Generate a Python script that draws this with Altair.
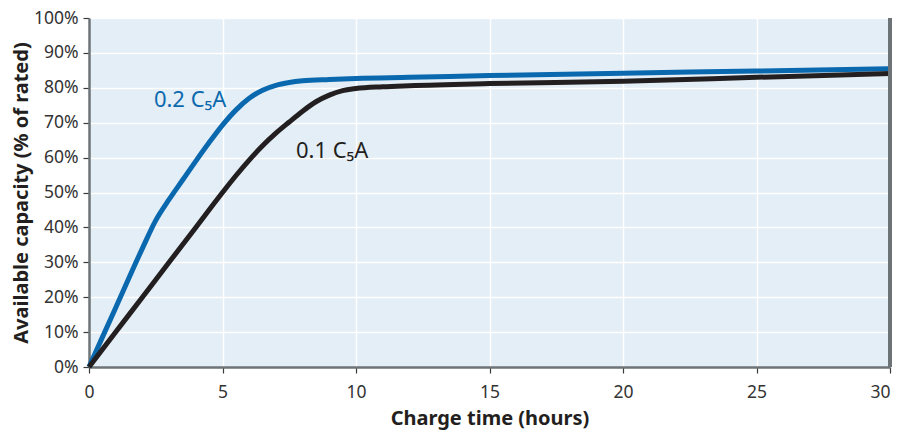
import altair as alt
import pandas as pd

# Charge time (hours) and available capacity (% of rated)
t_02 = [0, 1, 2, 2.5, 3, 3.5, 4, 4.5, 5, 5.5, 6, 6.5, 7, 7.5, 8, 9, 10, 12, 15, 20, 25, 30]
v_02 = [0, 17, 34, 42, 48, 53.5, 59, 64.3, 69.3, 73.6, 77, 79.3, 80.7, 81.5, 82, 82.4, 82.7, 83, 83.5, 84.2, 84.8, 85.5]

t_01 = [0, 1, 2, 3, 4, 5, 5.5, 6, 6.5, 7, 7.5, 8, 8.5, 9, 9.5, 10, 11, 12, 15, 20, 25, 30]
v_01 = [0, 10, 20, 30, 40, 50, 54.8, 59.3, 63.4, 67, 70.2, 73.3, 76, 77.9, 79.2, 79.8, 80.3, 80.6, 81.2, 81.9, 83, 84.1]

series_names = ["0.2 C₅A", "0.1 C₅A"]
series_colors = ["#0A68AE", "#231F20"]

label_t = [2.43, 7.75]
label_v = [76.6, 61.9]

x_ticks = [0, 5, 10, 15, 20, 25, 30]
y_ticks = [0, 10, 20, 30, 40, 50, 60, 70, 80, 90, 100]

df = pd.concat([
    pd.DataFrame({"t": t_02, "v": v_02, "s": series_names[0]}),
    pd.DataFrame({"t": t_01, "v": v_01, "s": series_names[1]}),
])
lab = pd.DataFrame({"t": label_t, "v": label_v, "s": series_names})

FONT = "Noto Sans"

x_enc = alt.X("t:Q", scale=alt.Scale(domain=[0, 30], nice=False),
              axis=alt.Axis(values=x_ticks, title="Charge time (hours)", format="d",
                            labelPadding=10, titlePadding=8, labelOverlap=False,
                            labelFlush=False,
                            labelAlign=alt.condition("datum.value == 30", alt.value("right"), alt.value("center")),
                            labelFontSize=17.5, titleFontSize=20))
y_enc = alt.Y("v:Q", scale=alt.Scale(domain=[0, 100], nice=False),
              axis=alt.Axis(values=y_ticks, title="Available capacity (% of rated)",
                            labelExpr="datum.value + '%'", labelPadding=5, titlePadding=2,
                            labelOverlap=False, labelFontSize=17.5, titleFontSize=20))
color_enc = alt.Color("s:N", scale=alt.Scale(domain=series_names, range=series_colors), legend=None)

lines = alt.Chart(df).mark_line(strokeWidth=5, interpolate="monotone").encode(
    x=x_enc, y=y_enc, color=color_enc, order=alt.Order("t:Q"))

border = alt.Chart(df).mark_rule(color="#6D7377", strokeWidth=2.5).encode(x=alt.datum(30))

labels = alt.Chart(lab).mark_text(align="left", baseline="middle", fontSize=22, font=FONT).encode(
    x=x_enc, y=y_enc, text="s:N", color=color_enc)

chart = alt.layer(lines, border, labels).properties(
    width=801, height=349,
    autosize=alt.AutoSizeParams(type="none"),
    padding={"left": 81, "top": 10, "right": 3, "bottom": 63},
).configure_view(
    stroke=None, fill="#E3EEF6"
).configure_axis(
    grid=True, gridColor="#FFFFFF", gridWidth=1.5,
    domainColor="#6D7377", domainWidth=2.5,
    tickColor="#3A3A3A", tickWidth=1.2, tickSize=6,
    labelFont=FONT, labelColor="#333333",
    titleFont=FONT, titleFontWeight="bold", titleColor="#231F20",
)

chart.save("out.html", embed_options={"renderer": "svg", "actions": False})
